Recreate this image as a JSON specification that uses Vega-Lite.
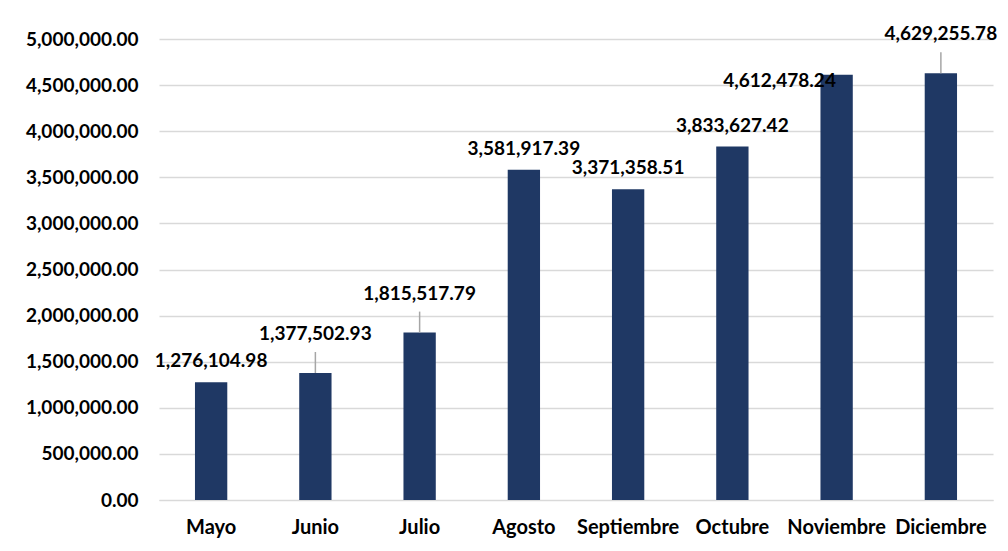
{
  "$schema": "https://vega.github.io/schema/vega-lite/v6.json",
  "width": 834,
  "height": 461,
  "autosize": {"type": "none"},
  "padding": {"left": 159, "top": 39, "right": 15, "bottom": 51},
  "background": "white",
  "config": {
    "font": "Lato",
    "view": {"stroke": null},
    "axis": {"labelFont": "Lato", "labelFontWeight": "bold", "labelFontSize": 19, "labelColor": "#000000"}
  },
  "data": {
    "values": [
      {"mes": "Mayo", "valor": 1276104.98},
      {"mes": "Junio", "valor": 1377502.93},
      {"mes": "Julio", "valor": 1815517.79},
      {"mes": "Agosto", "valor": 3581917.39},
      {"mes": "Septiembre", "valor": 3371358.51},
      {"mes": "Octubre", "valor": 3833627.42},
      {"mes": "Noviembre", "valor": 4612478.24},
      {"mes": "Diciembre", "valor": 4629255.78}
    ]
  },
  "encoding": {
    "x": {
      "field": "mes", "type": "nominal", "sort": null,
      "scale": {"paddingInner": 0, "paddingOuter": 0},
      "axis": {"title": null, "labelAngle": 0, "ticks": false, "domain": true, "domainColor": "#D9D9D9", "labelPadding": 17, "grid": false, "labelFontSize": 20}
    },
    "y": {
      "field": "valor", "type": "quantitative",
      "scale": {"domain": [0, 5000000], "nice": false},
      "axis": {"title": null, "values": [0, 500000, 1000000, 1500000, 2000000, 2500000, 3000000, 3500000, 4000000, 4500000, 5000000], "format": ",.2f", "ticks": false, "domain": false, "labelPadding": 21, "gridColor": "#D9D9D9", "gridWidth": 1.5}
    }
  },
  "layer": [
    {"mark": {"type": "bar", "color": "#1F3864", "width": {"band": 0.31}}},
    {
      "transform": [{"filter": {"field": "mes", "oneOf": ["Junio", "Julio", "Diciembre"]}}],
      "mark": {"type": "rule", "color": "#A6A6A6", "strokeWidth": 1.5, "y2Offset": -21},
      "encoding": {"y2": {"field": "valor"}}
    },
    {
      "transform": [{"filter": {"field": "mes", "oneOf": ["Mayo", "Agosto", "Septiembre", "Octubre"]}}],
      "mark": {"type": "text", "fontWeight": "bold", "fontSize": 19, "color": "#000000", "baseline": "middle", "dy": -21},
      "encoding": {"text": {"field": "valor", "type": "quantitative", "format": ",.2f"}}
    },
    {
      "transform": [{"filter": {"field": "mes", "oneOf": ["Junio", "Julio", "Diciembre"]}}],
      "mark": {"type": "text", "fontWeight": "bold", "fontSize": 19, "color": "#000000", "baseline": "middle", "dy": -39},
      "encoding": {"text": {"field": "valor", "type": "quantitative", "format": ",.2f"}}
    },
    {
      "transform": [{"filter": {"field": "mes", "equal": "Noviembre"}}],
      "mark": {"type": "text", "fontWeight": "bold", "fontSize": 19, "color": "#000000", "baseline": "middle", "dy": 6, "dx": -57},
      "encoding": {"text": {"field": "valor", "type": "quantitative", "format": ",.2f"}}
    }
  ]
}
